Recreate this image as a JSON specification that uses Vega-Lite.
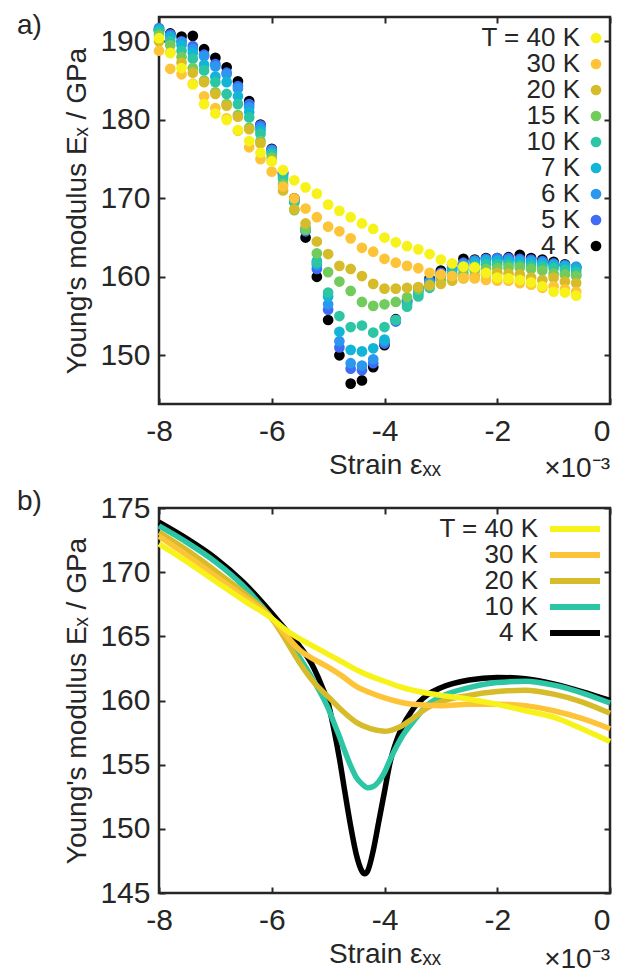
{
  "$schema": "https://vega.github.io/schema/vega-lite/v6.json",
  "autosize": {"type": "pad"},
  "padding": {"left": 15, "top": 10, "right": 0, "bottom": 0},
  "spacing": 1,
  "resolve": {"scale": {"color": "independent"}, "legend": {"color": "independent"}},
  "config": {
    "font": "Liberation Sans",
    "view": {"stroke": "#262626", "strokeWidth": 2.5},
    "axis": {"domain": false, "grid": false, "tickSize": -6, "tickWidth": 2, "tickColor": "#262626", "labelFont": "Liberation Sans", "labelFontSize": 30, "labelColor": "#262626", "labelPadding": 15, "labelFlush": false, "labelExpr": "'' + datum.value", "titleFont": "Liberation Sans", "titleFontSize": 28, "titleFontWeight": "normal", "titleColor": "#262626"}
  },
  "datasets": {
    "pa": [
{"T":"4 K","x":-8.0,"y":191.4},{"T":"4 K","x":-7.8,"y":191.0},{"T":"4 K","x":-7.6,"y":190.6},{"T":"4 K","x":-7.4,"y":190.7},{"T":"4 K","x":-7.2,"y":189.0},{"T":"4 K","x":-7.0,"y":187.9},{"T":"4 K","x":-6.8,"y":186.7},{"T":"4 K","x":-6.6,"y":184.9},{"T":"4 K","x":-6.4,"y":182.4},{"T":"4 K","x":-6.2,"y":179.4},{"T":"4 K","x":-6.0,"y":176.3},{"T":"4 K","x":-5.8,"y":173.3},{"T":"4 K","x":-5.6,"y":170.0},{"T":"4 K","x":-5.4,"y":165.0},{"T":"4 K","x":-5.2,"y":160.0},{"T":"4 K","x":-5.0,"y":154.5},{"T":"4 K","x":-4.8,"y":150.0},{"T":"4 K","x":-4.6,"y":146.4},{"T":"4 K","x":-4.4,"y":146.8},{"T":"4 K","x":-4.2,"y":148.5},{"T":"4 K","x":-4.0,"y":151.3},{"T":"4 K","x":-3.8,"y":154.6},{"T":"4 K","x":-3.6,"y":157.0},{"T":"4 K","x":-3.4,"y":158.6},{"T":"4 K","x":-3.2,"y":159.8},{"T":"4 K","x":-3.0,"y":160.8},{"T":"4 K","x":-2.8,"y":161.6},{"T":"4 K","x":-2.6,"y":162.3},{"T":"4 K","x":-2.4,"y":162.2},{"T":"4 K","x":-2.2,"y":162.4},{"T":"4 K","x":-2.0,"y":162.4},{"T":"4 K","x":-1.8,"y":162.5},{"T":"4 K","x":-1.6,"y":162.8},{"T":"4 K","x":-1.4,"y":162.4},{"T":"4 K","x":-1.2,"y":162.2},{"T":"4 K","x":-1.0,"y":161.9},{"T":"4 K","x":-0.8,"y":161.6},{"T":"4 K","x":-0.6,"y":161.2},
{"T":"5 K","x":-8.0,"y":191.7},{"T":"5 K","x":-7.8,"y":190.9},{"T":"5 K","x":-7.6,"y":190.0},{"T":"5 K","x":-7.4,"y":189.4},{"T":"5 K","x":-7.2,"y":188.3},{"T":"5 K","x":-7.0,"y":187.1},{"T":"5 K","x":-6.8,"y":186.0},{"T":"5 K","x":-6.6,"y":184.3},{"T":"5 K","x":-6.4,"y":182.0},{"T":"5 K","x":-6.2,"y":179.3},{"T":"5 K","x":-6.0,"y":176.2},{"T":"5 K","x":-5.8,"y":173.2},{"T":"5 K","x":-5.6,"y":169.8},{"T":"5 K","x":-5.4,"y":165.8},{"T":"5 K","x":-5.2,"y":161.0},{"T":"5 K","x":-5.0,"y":155.8},{"T":"5 K","x":-4.8,"y":151.0},{"T":"5 K","x":-4.6,"y":148.3},{"T":"5 K","x":-4.4,"y":148.1},{"T":"5 K","x":-4.2,"y":149.0},{"T":"5 K","x":-4.0,"y":151.5},{"T":"5 K","x":-3.8,"y":154.3},{"T":"5 K","x":-3.6,"y":156.8},{"T":"5 K","x":-3.4,"y":158.3},{"T":"5 K","x":-3.2,"y":159.5},{"T":"5 K","x":-3.0,"y":160.5},{"T":"5 K","x":-2.8,"y":161.2},{"T":"5 K","x":-2.6,"y":161.8},{"T":"5 K","x":-2.4,"y":162.1},{"T":"5 K","x":-2.2,"y":162.3},{"T":"5 K","x":-2.0,"y":162.4},{"T":"5 K","x":-1.8,"y":162.4},{"T":"5 K","x":-1.6,"y":162.3},{"T":"5 K","x":-1.4,"y":162.2},{"T":"5 K","x":-1.2,"y":162.0},{"T":"5 K","x":-1.0,"y":161.7},{"T":"5 K","x":-0.8,"y":161.5},{"T":"5 K","x":-0.6,"y":160.2},
{"T":"6 K","x":-8.0,"y":191.6},{"T":"6 K","x":-7.8,"y":190.7},{"T":"6 K","x":-7.6,"y":189.9},{"T":"6 K","x":-7.4,"y":189.0},{"T":"6 K","x":-7.2,"y":188.1},{"T":"6 K","x":-7.0,"y":186.8},{"T":"6 K","x":-6.8,"y":185.8},{"T":"6 K","x":-6.6,"y":184.0},{"T":"6 K","x":-6.4,"y":181.6},{"T":"6 K","x":-6.2,"y":179.0},{"T":"6 K","x":-6.0,"y":176.1},{"T":"6 K","x":-5.8,"y":173.0},{"T":"6 K","x":-5.6,"y":169.8},{"T":"6 K","x":-5.4,"y":166.0},{"T":"6 K","x":-5.2,"y":161.5},{"T":"6 K","x":-5.0,"y":156.5},{"T":"6 K","x":-4.8,"y":151.8},{"T":"6 K","x":-4.6,"y":149.0},{"T":"6 K","x":-4.4,"y":148.7},{"T":"6 K","x":-4.2,"y":149.5},{"T":"6 K","x":-4.0,"y":151.8},{"T":"6 K","x":-3.8,"y":154.5},{"T":"6 K","x":-3.6,"y":156.8},{"T":"6 K","x":-3.4,"y":158.2},{"T":"6 K","x":-3.2,"y":159.3},{"T":"6 K","x":-3.0,"y":160.3},{"T":"6 K","x":-2.8,"y":161.0},{"T":"6 K","x":-2.6,"y":161.6},{"T":"6 K","x":-2.4,"y":162.0},{"T":"6 K","x":-2.2,"y":162.2},{"T":"6 K","x":-2.0,"y":162.2},{"T":"6 K","x":-1.8,"y":162.2},{"T":"6 K","x":-1.6,"y":162.1},{"T":"6 K","x":-1.4,"y":162.0},{"T":"6 K","x":-1.2,"y":161.8},{"T":"6 K","x":-1.0,"y":161.6},{"T":"6 K","x":-0.8,"y":161.4},{"T":"6 K","x":-0.6,"y":161.3},
{"T":"7 K","x":-8.0,"y":191.5},{"T":"7 K","x":-7.8,"y":190.5},{"T":"7 K","x":-7.6,"y":189.5},{"T":"7 K","x":-7.4,"y":188.5},{"T":"7 K","x":-7.2,"y":187.0},{"T":"7 K","x":-7.0,"y":185.5},{"T":"7 K","x":-6.8,"y":184.8},{"T":"7 K","x":-6.6,"y":183.0},{"T":"7 K","x":-6.4,"y":181.0},{"T":"7 K","x":-6.2,"y":178.6},{"T":"7 K","x":-6.0,"y":175.8},{"T":"7 K","x":-5.8,"y":172.8},{"T":"7 K","x":-5.6,"y":169.5},{"T":"7 K","x":-5.4,"y":166.0},{"T":"7 K","x":-5.2,"y":162.0},{"T":"7 K","x":-5.0,"y":157.5},{"T":"7 K","x":-4.8,"y":153.0},{"T":"7 K","x":-4.6,"y":150.7},{"T":"7 K","x":-4.4,"y":150.5},{"T":"7 K","x":-4.2,"y":150.9},{"T":"7 K","x":-4.0,"y":152.0},{"T":"7 K","x":-3.8,"y":154.5},{"T":"7 K","x":-3.6,"y":156.5},{"T":"7 K","x":-3.4,"y":157.8},{"T":"7 K","x":-3.2,"y":159.0},{"T":"7 K","x":-3.0,"y":160.0},{"T":"7 K","x":-2.8,"y":160.8},{"T":"7 K","x":-2.6,"y":161.4},{"T":"7 K","x":-2.4,"y":161.8},{"T":"7 K","x":-2.2,"y":162.0},{"T":"7 K","x":-2.0,"y":162.0},{"T":"7 K","x":-1.8,"y":162.0},{"T":"7 K","x":-1.6,"y":161.9},{"T":"7 K","x":-1.4,"y":161.8},{"T":"7 K","x":-1.2,"y":161.7},{"T":"7 K","x":-1.0,"y":161.5},{"T":"7 K","x":-0.8,"y":161.3},{"T":"7 K","x":-0.6,"y":161.0},
{"T":"10 K","x":-8.0,"y":191.2},{"T":"10 K","x":-7.8,"y":190.0},{"T":"10 K","x":-7.6,"y":188.8},{"T":"10 K","x":-7.4,"y":187.8},{"T":"10 K","x":-7.2,"y":186.3},{"T":"10 K","x":-7.0,"y":184.8},{"T":"10 K","x":-6.8,"y":183.3},{"T":"10 K","x":-6.6,"y":182.0},{"T":"10 K","x":-6.4,"y":180.3},{"T":"10 K","x":-6.2,"y":178.2},{"T":"10 K","x":-6.0,"y":175.6},{"T":"10 K","x":-5.8,"y":172.5},{"T":"10 K","x":-5.6,"y":169.5},{"T":"10 K","x":-5.4,"y":166.2},{"T":"10 K","x":-5.2,"y":161.8},{"T":"10 K","x":-5.0,"y":158.0},{"T":"10 K","x":-4.8,"y":155.0},{"T":"10 K","x":-4.6,"y":153.6},{"T":"10 K","x":-4.4,"y":153.8},{"T":"10 K","x":-4.2,"y":152.9},{"T":"10 K","x":-4.0,"y":153.6},{"T":"10 K","x":-3.8,"y":154.5},{"T":"10 K","x":-3.6,"y":156.2},{"T":"10 K","x":-3.4,"y":157.5},{"T":"10 K","x":-3.2,"y":158.6},{"T":"10 K","x":-3.0,"y":159.6},{"T":"10 K","x":-2.8,"y":160.4},{"T":"10 K","x":-2.6,"y":161.0},{"T":"10 K","x":-2.4,"y":161.4},{"T":"10 K","x":-2.2,"y":161.6},{"T":"10 K","x":-2.0,"y":161.6},{"T":"10 K","x":-1.8,"y":161.6},{"T":"10 K","x":-1.6,"y":161.5},{"T":"10 K","x":-1.4,"y":161.4},{"T":"10 K","x":-1.2,"y":161.3},{"T":"10 K","x":-1.0,"y":161.1},{"T":"10 K","x":-0.8,"y":160.9},{"T":"10 K","x":-0.6,"y":160.6},
{"T":"15 K","x":-8.0,"y":190.8},{"T":"15 K","x":-7.8,"y":189.5},{"T":"15 K","x":-7.6,"y":188.0},{"T":"15 K","x":-7.4,"y":186.6},{"T":"15 K","x":-7.2,"y":185.0},{"T":"15 K","x":-7.0,"y":183.5},{"T":"15 K","x":-6.8,"y":182.0},{"T":"15 K","x":-6.6,"y":180.6},{"T":"15 K","x":-6.4,"y":179.0},{"T":"15 K","x":-6.2,"y":177.3},{"T":"15 K","x":-6.0,"y":175.2},{"T":"15 K","x":-5.8,"y":171.8},{"T":"15 K","x":-5.6,"y":168.5},{"T":"15 K","x":-5.4,"y":166.0},{"T":"15 K","x":-5.2,"y":163.0},{"T":"15 K","x":-5.0,"y":160.6},{"T":"15 K","x":-4.8,"y":159.4},{"T":"15 K","x":-4.6,"y":158.2},{"T":"15 K","x":-4.4,"y":156.8},{"T":"15 K","x":-4.2,"y":156.3},{"T":"15 K","x":-4.0,"y":156.5},{"T":"15 K","x":-3.8,"y":156.8},{"T":"15 K","x":-3.6,"y":157.4},{"T":"15 K","x":-3.4,"y":158.4},{"T":"15 K","x":-3.2,"y":159.0},{"T":"15 K","x":-3.0,"y":159.6},{"T":"15 K","x":-2.8,"y":160.1},{"T":"15 K","x":-2.6,"y":160.4},{"T":"15 K","x":-2.4,"y":160.8},{"T":"15 K","x":-2.2,"y":161.0},{"T":"15 K","x":-2.0,"y":161.1},{"T":"15 K","x":-1.8,"y":161.2},{"T":"15 K","x":-1.6,"y":161.2},{"T":"15 K","x":-1.4,"y":161.0},{"T":"15 K","x":-1.2,"y":160.8},{"T":"15 K","x":-1.0,"y":160.4},{"T":"15 K","x":-0.8,"y":160.3},{"T":"15 K","x":-0.6,"y":160.1},
{"T":"20 K","x":-8.0,"y":190.0},{"T":"20 K","x":-7.8,"y":188.6},{"T":"20 K","x":-7.6,"y":187.3},{"T":"20 K","x":-7.4,"y":186.0},{"T":"20 K","x":-7.2,"y":184.8},{"T":"20 K","x":-7.0,"y":183.3},{"T":"20 K","x":-6.8,"y":181.8},{"T":"20 K","x":-6.6,"y":180.4},{"T":"20 K","x":-6.4,"y":178.8},{"T":"20 K","x":-6.2,"y":177.0},{"T":"20 K","x":-6.0,"y":174.8},{"T":"20 K","x":-5.8,"y":171.0},{"T":"20 K","x":-5.6,"y":168.6},{"T":"20 K","x":-5.4,"y":166.8},{"T":"20 K","x":-5.2,"y":164.5},{"T":"20 K","x":-5.0,"y":162.9},{"T":"20 K","x":-4.8,"y":161.4},{"T":"20 K","x":-4.6,"y":161.0},{"T":"20 K","x":-4.4,"y":160.1},{"T":"20 K","x":-4.2,"y":159.1},{"T":"20 K","x":-4.0,"y":158.5},{"T":"20 K","x":-3.8,"y":158.5},{"T":"20 K","x":-3.6,"y":158.6},{"T":"20 K","x":-3.4,"y":158.7},{"T":"20 K","x":-3.2,"y":158.9},{"T":"20 K","x":-3.0,"y":159.1},{"T":"20 K","x":-2.8,"y":159.5},{"T":"20 K","x":-2.6,"y":159.8},{"T":"20 K","x":-2.4,"y":160.1},{"T":"20 K","x":-2.2,"y":160.3},{"T":"20 K","x":-2.0,"y":160.5},{"T":"20 K","x":-1.8,"y":160.4},{"T":"20 K","x":-1.6,"y":160.3},{"T":"20 K","x":-1.4,"y":159.9},{"T":"20 K","x":-1.2,"y":159.6},{"T":"20 K","x":-1.0,"y":159.9},{"T":"20 K","x":-0.8,"y":159.4},{"T":"20 K","x":-0.6,"y":159.2},
{"T":"30 K","x":-8.0,"y":188.8},{"T":"30 K","x":-7.8,"y":186.5},{"T":"30 K","x":-7.6,"y":185.8},{"T":"30 K","x":-7.4,"y":184.6},{"T":"30 K","x":-7.2,"y":183.0},{"T":"30 K","x":-7.0,"y":181.5},{"T":"30 K","x":-6.8,"y":180.2},{"T":"30 K","x":-6.6,"y":178.6},{"T":"30 K","x":-6.4,"y":176.5},{"T":"30 K","x":-6.2,"y":175.0},{"T":"30 K","x":-6.0,"y":173.4},{"T":"30 K","x":-5.8,"y":171.5},{"T":"30 K","x":-5.6,"y":170.0},{"T":"30 K","x":-5.4,"y":168.7},{"T":"30 K","x":-5.2,"y":167.6},{"T":"30 K","x":-5.0,"y":166.4},{"T":"30 K","x":-4.8,"y":165.8},{"T":"30 K","x":-4.6,"y":164.9},{"T":"30 K","x":-4.4,"y":163.7},{"T":"30 K","x":-4.2,"y":163.2},{"T":"30 K","x":-4.0,"y":162.3},{"T":"30 K","x":-3.8,"y":161.8},{"T":"30 K","x":-3.6,"y":161.4},{"T":"30 K","x":-3.4,"y":161.1},{"T":"30 K","x":-3.2,"y":160.5},{"T":"30 K","x":-3.0,"y":160.3},{"T":"30 K","x":-2.8,"y":160.1},{"T":"30 K","x":-2.6,"y":159.9},{"T":"30 K","x":-2.4,"y":159.8},{"T":"30 K","x":-2.2,"y":159.6},{"T":"30 K","x":-2.0,"y":159.5},{"T":"30 K","x":-1.8,"y":159.5},{"T":"30 K","x":-1.6,"y":159.2},{"T":"30 K","x":-1.4,"y":159.0},{"T":"30 K","x":-1.2,"y":158.6},{"T":"30 K","x":-1.0,"y":158.8},{"T":"30 K","x":-0.8,"y":158.4},{"T":"30 K","x":-0.6,"y":158.1},
{"T":"40 K","x":-8.0,"y":190.4},{"T":"40 K","x":-7.8,"y":188.5},{"T":"40 K","x":-7.6,"y":186.6},{"T":"40 K","x":-7.4,"y":184.5},{"T":"40 K","x":-7.2,"y":182.0},{"T":"40 K","x":-7.0,"y":180.8},{"T":"40 K","x":-6.8,"y":180.0},{"T":"40 K","x":-6.6,"y":178.7},{"T":"40 K","x":-6.4,"y":177.3},{"T":"40 K","x":-6.2,"y":175.8},{"T":"40 K","x":-6.0,"y":174.7},{"T":"40 K","x":-5.8,"y":173.6},{"T":"40 K","x":-5.6,"y":172.3},{"T":"40 K","x":-5.4,"y":171.4},{"T":"40 K","x":-5.2,"y":170.6},{"T":"40 K","x":-5.0,"y":169.2},{"T":"40 K","x":-4.8,"y":168.4},{"T":"40 K","x":-4.6,"y":167.6},{"T":"40 K","x":-4.4,"y":166.8},{"T":"40 K","x":-4.2,"y":166.1},{"T":"40 K","x":-4.0,"y":165.0},{"T":"40 K","x":-3.8,"y":164.4},{"T":"40 K","x":-3.6,"y":163.9},{"T":"40 K","x":-3.4,"y":163.5},{"T":"40 K","x":-3.2,"y":162.9},{"T":"40 K","x":-3.0,"y":162.2},{"T":"40 K","x":-2.8,"y":161.7},{"T":"40 K","x":-2.6,"y":161.3},{"T":"40 K","x":-2.4,"y":161.2},{"T":"40 K","x":-2.2,"y":160.5},{"T":"40 K","x":-2.0,"y":159.9},{"T":"40 K","x":-1.8,"y":159.8},{"T":"40 K","x":-1.6,"y":159.6},{"T":"40 K","x":-1.4,"y":159.3},{"T":"40 K","x":-1.2,"y":158.8},{"T":"40 K","x":-1.0,"y":158.1},{"T":"40 K","x":-0.8,"y":158.0},{"T":"40 K","x":-0.6,"y":157.6}
    ],
    "pb": [
{"T":"4 K","x":-8.0,"y":173.9},{"T":"4 K","x":-7.5,"y":172.6},{"T":"4 K","x":-7.0,"y":171.1},{"T":"4 K","x":-6.5,"y":169.2},{"T":"4 K","x":-6.0,"y":166.8},{"T":"4 K","x":-5.75,"y":165.5},{"T":"4 K","x":-5.5,"y":164.2},{"T":"4 K","x":-5.25,"y":162.5},{"T":"4 K","x":-5.1,"y":161.0},{"T":"4 K","x":-5.0,"y":159.8},{"T":"4 K","x":-4.9,"y":157.8},{"T":"4 K","x":-4.8,"y":155.5},{"T":"4 K","x":-4.7,"y":152.8},{"T":"4 K","x":-4.6,"y":150.2},{"T":"4 K","x":-4.5,"y":148.0},{"T":"4 K","x":-4.4,"y":146.7},{"T":"4 K","x":-4.35,"y":146.5},{"T":"4 K","x":-4.3,"y":146.7},{"T":"4 K","x":-4.2,"y":148.3},{"T":"4 K","x":-4.1,"y":150.6},{"T":"4 K","x":-4.0,"y":152.9},{"T":"4 K","x":-3.9,"y":155.2},{"T":"4 K","x":-3.8,"y":156.7},{"T":"4 K","x":-3.7,"y":157.8},{"T":"4 K","x":-3.5,"y":159.3},{"T":"4 K","x":-3.25,"y":160.4},{"T":"4 K","x":-3.0,"y":161.0},{"T":"4 K","x":-2.5,"y":161.6},{"T":"4 K","x":-2.0,"y":161.8},{"T":"4 K","x":-1.5,"y":161.7},{"T":"4 K","x":-1.0,"y":161.3},{"T":"4 K","x":-0.5,"y":160.7},{"T":"4 K","x":0.0,"y":160.0},
{"T":"10 K","x":-8.0,"y":173.6},{"T":"10 K","x":-7.5,"y":172.3},{"T":"10 K","x":-7.0,"y":170.8},{"T":"10 K","x":-6.5,"y":168.9},{"T":"10 K","x":-6.0,"y":166.4},{"T":"10 K","x":-5.75,"y":164.9},{"T":"10 K","x":-5.5,"y":163.3},{"T":"10 K","x":-5.25,"y":161.5},{"T":"10 K","x":-5.0,"y":159.4},{"T":"10 K","x":-4.9,"y":158.3},{"T":"10 K","x":-4.8,"y":157.2},{"T":"10 K","x":-4.7,"y":156.0},{"T":"10 K","x":-4.6,"y":154.9},{"T":"10 K","x":-4.5,"y":154.0},{"T":"10 K","x":-4.4,"y":153.5},{"T":"10 K","x":-4.3,"y":153.2},{"T":"10 K","x":-4.2,"y":153.3},{"T":"10 K","x":-4.1,"y":153.7},{"T":"10 K","x":-4.0,"y":154.4},{"T":"10 K","x":-3.9,"y":155.4},{"T":"10 K","x":-3.8,"y":156.3},{"T":"10 K","x":-3.7,"y":157.1},{"T":"10 K","x":-3.5,"y":158.3},{"T":"10 K","x":-3.25,"y":159.6},{"T":"10 K","x":-3.0,"y":160.3},{"T":"10 K","x":-2.5,"y":161.0},{"T":"10 K","x":-2.0,"y":161.4},{"T":"10 K","x":-1.5,"y":161.5},{"T":"10 K","x":-1.0,"y":161.2},{"T":"10 K","x":-0.5,"y":160.6},{"T":"10 K","x":0.0,"y":159.8},
{"T":"20 K","x":-8.0,"y":173.1},{"T":"20 K","x":-7.5,"y":171.7},{"T":"20 K","x":-7.0,"y":170.1},{"T":"20 K","x":-6.5,"y":168.4},{"T":"20 K","x":-6.0,"y":166.4},{"T":"20 K","x":-5.75,"y":164.7},{"T":"20 K","x":-5.5,"y":162.9},{"T":"20 K","x":-5.25,"y":161.4},{"T":"20 K","x":-5.0,"y":160.3},{"T":"20 K","x":-4.75,"y":159.2},{"T":"20 K","x":-4.5,"y":158.3},{"T":"20 K","x":-4.25,"y":157.8},{"T":"20 K","x":-4.0,"y":157.6},{"T":"20 K","x":-3.75,"y":157.9},{"T":"20 K","x":-3.5,"y":158.6},{"T":"20 K","x":-3.25,"y":159.4},{"T":"20 K","x":-3.0,"y":159.9},{"T":"20 K","x":-2.5,"y":160.4},{"T":"20 K","x":-2.0,"y":160.7},{"T":"20 K","x":-1.5,"y":160.8},{"T":"20 K","x":-1.0,"y":160.5},{"T":"20 K","x":-0.5,"y":159.9},{"T":"20 K","x":0.0,"y":159.0},
{"T":"30 K","x":-8.0,"y":172.8},{"T":"30 K","x":-7.5,"y":171.3},{"T":"30 K","x":-7.0,"y":169.7},{"T":"30 K","x":-6.5,"y":168.1},{"T":"30 K","x":-6.0,"y":166.4},{"T":"30 K","x":-5.75,"y":165.1},{"T":"30 K","x":-5.5,"y":163.9},{"T":"30 K","x":-5.25,"y":163.2},{"T":"30 K","x":-5.0,"y":162.6},{"T":"30 K","x":-4.75,"y":161.9},{"T":"30 K","x":-4.5,"y":161.1},{"T":"30 K","x":-4.25,"y":160.6},{"T":"30 K","x":-4.0,"y":160.2},{"T":"30 K","x":-3.75,"y":159.9},{"T":"30 K","x":-3.5,"y":159.7},{"T":"30 K","x":-3.0,"y":159.6},{"T":"30 K","x":-2.5,"y":159.7},{"T":"30 K","x":-2.0,"y":159.7},{"T":"30 K","x":-1.5,"y":159.6},{"T":"30 K","x":-1.0,"y":159.2},{"T":"30 K","x":-0.5,"y":158.6},{"T":"30 K","x":0.0,"y":157.8},
{"T":"40 K","x":-8.0,"y":172.2},{"T":"40 K","x":-7.5,"y":170.8},{"T":"40 K","x":-7.0,"y":169.3},{"T":"40 K","x":-6.5,"y":167.8},{"T":"40 K","x":-6.0,"y":166.4},{"T":"40 K","x":-5.75,"y":165.5},{"T":"40 K","x":-5.5,"y":164.8},{"T":"40 K","x":-5.25,"y":164.2},{"T":"40 K","x":-5.0,"y":163.6},{"T":"40 K","x":-4.75,"y":163.0},{"T":"40 K","x":-4.5,"y":162.4},{"T":"40 K","x":-4.25,"y":161.9},{"T":"40 K","x":-4.0,"y":161.5},{"T":"40 K","x":-3.75,"y":161.1},{"T":"40 K","x":-3.5,"y":160.8},{"T":"40 K","x":-3.0,"y":160.4},{"T":"40 K","x":-2.5,"y":160.1},{"T":"40 K","x":-2.0,"y":159.7},{"T":"40 K","x":-1.5,"y":159.2},{"T":"40 K","x":-1.0,"y":158.7},{"T":"40 K","x":-0.5,"y":157.8},{"T":"40 K","x":0.0,"y":156.8}
    ]
  },
  "vconcat": [
    {
      "width": 451,
      "height": 387,
      "layer": [
        {
          "data": {"name": "pa"},
          "mark": {"type": "circle", "size": 115, "opacity": 1},
          "encoding": {
            "x": {"field": "x", "type": "quantitative", "scale": {"domain": [-8, 0], "nice": false, "zero": false},
                  "axis": {"orient": "bottom", "values": [-8, -6, -4, -2, 0], "title": "Strain εₓₓ", "titlePadding": 5, "labelPadding": 18,
                           "labelAlign": {"condition": {"test": "datum.value == 0", "value": "right"}, "value": "center"}}},
            "y": {"field": "y", "type": "quantitative", "scale": {"domain": [143.8, 193.1], "nice": false, "zero": false},
                  "axis": {"orient": "left", "values": [150, 160, 170, 180, 190], "title": "Young's modulus Eₓ / GPa", "titlePadding": 8}},
            "color": {"field": "T", "type": "nominal",
                      "scale": {"domain": ["40 K", "30 K", "20 K", "15 K", "10 K", "7 K", "6 K", "5 K", "4 K"],
                                "range": ["#F7F31A", "#FEC437", "#D6BC2A", "#72CC5D", "#2DC6A5", "#12B5D8", "#2C97EE", "#3F6CF6", "#000000"]},
                      "legend": {"orient": "top-right", "offset": 8, "title": null, "padding": 0, "labelFont": "Liberation Sans", "labelFontSize": 26, "labelColor": "#262626",
                                 "labelAlign": "right", "labelOffset": -29, "symbolOffset": 0, "symbolType": "circle", "symbolSize": 115, "symbolStrokeWidth": 0, "symbolOpacity": 1,
                                 "rowPadding": 0, "labelExpr": "datum.value == '40 K' ? 'T = 40 K' : datum.value"}}
          }
        },
        {
          "data": {"values": [{}]},
          "mark": {"type": "text", "text": "×10⁻³", "align": "right", "baseline": "alphabetic", "dy": 73, "fontSize": 28, "font": "Liberation Sans", "color": "#262626"},
          "encoding": {
            "x": {"datum": 0, "type": "quantitative", "axis": {"orient": "top", "labels": false, "title": null, "values": [-8, -6, -4, -2, 0]}},
            "y": {"datum": 143.8, "type": "quantitative", "axis": {"orient": "right", "labels": false, "title": null, "values": [150, 160, 170, 180, 190]}}
          }
        },
        {
          "data": {"values": [{}]},
          "mark": {"type": "text", "text": "a)", "align": "left", "baseline": "top", "dx": -142, "dy": -5, "fontSize": 28, "font": "Liberation Sans", "color": "#262626"},
          "encoding": {
            "x": {"datum": -8, "type": "quantitative", "axis": null},
            "y": {"datum": 193.1, "type": "quantitative", "axis": null}
          }
        }
      ],
      "resolve": {"axis": {"x": "independent", "y": "independent"}}
    },
    {
      "width": 451,
      "height": 385,
      "layer": [
        {
          "data": {"name": "pb"},
          "mark": {"type": "line", "strokeWidth": 5.5, "interpolate": "monotone"},
          "encoding": {
            "x": {"field": "x", "type": "quantitative", "scale": {"domain": [-8, 0], "nice": false, "zero": false},
                  "axis": {"orient": "bottom", "values": [-8, -6, -4, -2, 0], "title": "Strain εₓₓ", "titlePadding": 5, "labelPadding": 18,
                           "labelAlign": {"condition": {"test": "datum.value == 0", "value": "right"}, "value": "center"}}},
            "y": {"field": "y", "type": "quantitative", "scale": {"domain": [145, 175], "nice": false, "zero": false},
                  "axis": {"orient": "left", "values": [145, 150, 155, 160, 165, 170, 175], "title": "Young's modulus Eₓ / GPa", "titlePadding": 8}},
            "color": {"field": "T", "type": "nominal",
                      "scale": {"domain": ["40 K", "30 K", "20 K", "10 K", "4 K"],
                                "range": ["#F7F31A", "#FEC437", "#D6BC2A", "#2DC6A5", "#000000"]},
                      "legend": {"orient": "top-right", "offset": -2, "title": " ", "titleFontSize": 8, "titlePadding": 2, "titleColor": "#ffffff", "padding": 0, "labelFont": "Liberation Sans", "labelFontSize": 26, "labelColor": "#262626",
                                 "labelAlign": "right", "labelOffset": -50, "symbolOffset": 0, "symbolType": "M-5,0H5", "symbolSize": 100, "symbolStrokeWidth": 6,
                                 "rowPadding": 0, "labelExpr": "datum.value == '40 K' ? 'T = 40 K' : datum.value"}}
          }
        },
        {
          "data": {"values": [{}]},
          "mark": {"type": "text", "text": "×10⁻³", "align": "right", "baseline": "alphabetic", "dy": 75, "fontSize": 28, "font": "Liberation Sans", "color": "#262626"},
          "encoding": {
            "x": {"datum": 0, "type": "quantitative", "axis": {"orient": "top", "labels": false, "title": null, "values": [-8, -6, -4, -2, 0]}},
            "y": {"datum": 145, "type": "quantitative", "axis": {"orient": "right", "labels": false, "title": null, "values": [145, 150, 155, 160, 165, 170, 175]}}
          }
        },
        {
          "data": {"values": [{}]},
          "mark": {"type": "text", "text": "b)", "align": "left", "baseline": "top", "dx": -142, "dy": -20, "fontSize": 28, "font": "Liberation Sans", "color": "#262626"},
          "encoding": {
            "x": {"datum": -8, "type": "quantitative", "axis": null},
            "y": {"datum": 175, "type": "quantitative", "axis": null}
          }
        }
      ],
      "resolve": {"axis": {"x": "independent", "y": "independent"}}
    }
  ]
}
